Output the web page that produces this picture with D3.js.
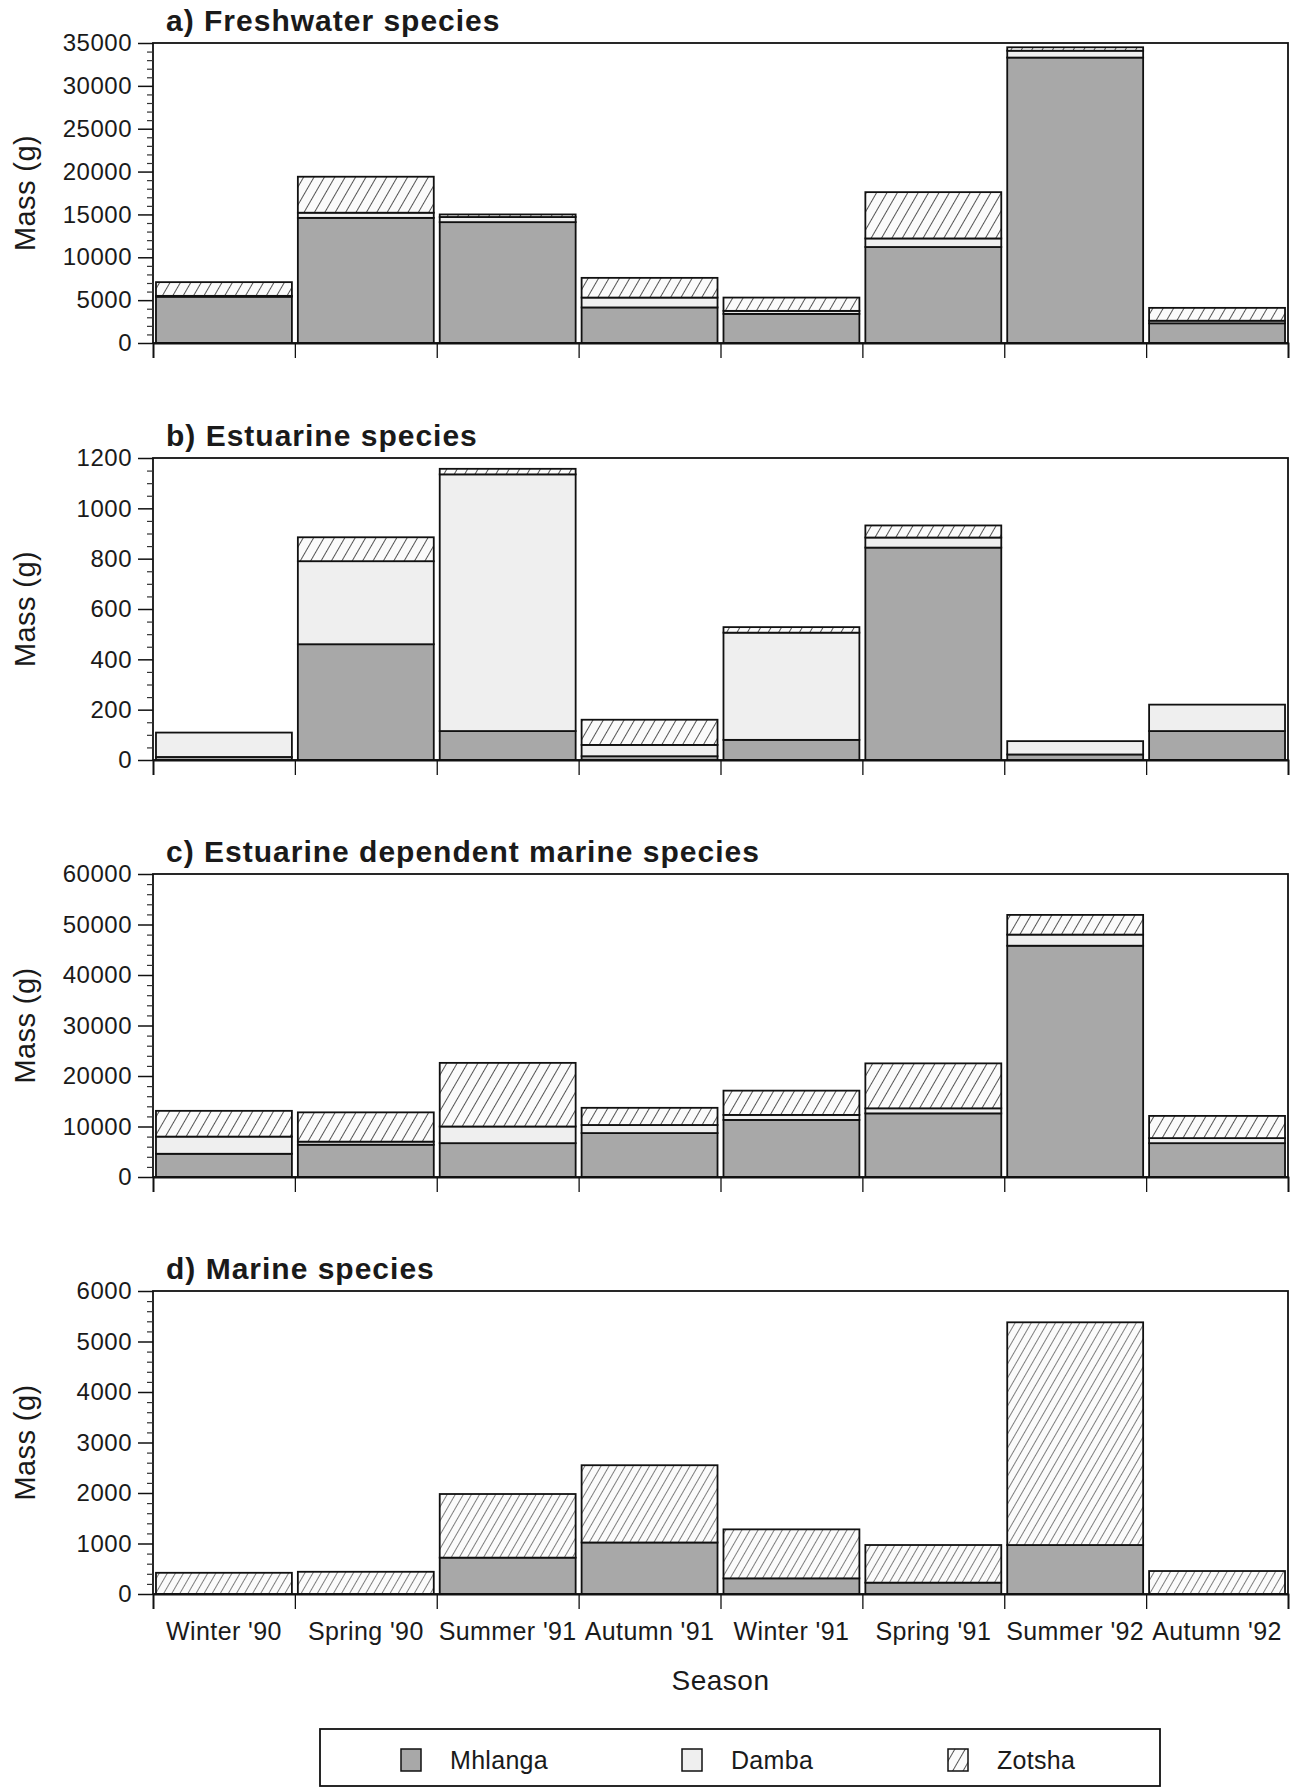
<!DOCTYPE html>
<html><head><meta charset="utf-8">
<script src="https://cdn.jsdelivr.net/npm/d3@7"></script>
<style>
html,body{margin:0;padding:0;background:#fff;}
svg text{font-family:"Liberation Sans",Arial,Helvetica,sans-serif;fill:#1a1a1a;}
</style></head>
<body>
<svg id="chart" width="1297" height="1788"></svg>
<script>
// ---------- DATA ----------
const seasons = ["Winter '90","Spring '90","Summer '91","Autumn '91","Winter '91","Spring '91","Summer '92","Autumn '92"];
const seriesNames = ["Mhlanga","Damba","Zotsha"];

// a) Freshwater species
const freshMhlanga = [5400, 14600, 14100, 4150, 3400, 11200, 33300, 2300];
const freshDamba   = [100,  600,   600,   1150, 350,  1000,  800,   300];
const freshZotsha  = [1600, 4200,  300,   2300, 1550, 5400,  400,   1500];
const freshTicks   = [0,5000,10000,15000,20000,25000,30000,35000];

// b) Estuarine species
const estMhlanga = [12, 460, 115, 15,  80,  844, 22, 115];
const estDamba   = [97, 330, 1020, 45, 426, 40,  53, 105];
const estZotsha  = [0,  95,  22,  100, 22,  48,  0,  0];
const estTicks   = [0,200,400,600,800,1000,1200];

// c) Estuarine dependent marine species
const edmMhlanga = [4600, 6400, 6700, 8700, 11300, 12600, 45800, 6700];
const edmDamba   = [3400, 600,  3300, 1600, 1000,  1000,  2200,  1000];
const edmZotsha  = [5100, 5800, 12600,3400, 4800,  8900,  3900,  4400];
const edmTicks   = [0,10000,20000,30000,40000,50000,60000];

// d) Marine species
const marMhlanga = [0,   0,   720,  1020, 310, 225, 970,  0];
const marDamba   = [0,   0,   0,    0,    0,   0,   0,    0];
const marZotsha  = [420, 440, 1260, 1530, 970, 745, 4410, 455];
const marTicks   = [0,1000,2000,3000,4000,5000,6000];

const panels = [
  {title:"a) Freshwater species", m:freshMhlanga, d:freshDamba, z:freshZotsha, ticks:freshTicks, minor:1000, top:43, bottom:343},
  {title:"b) Estuarine species", m:estMhlanga, d:estDamba, z:estZotsha, ticks:estTicks, minor:50, top:458, bottom:760},
  {title:"c) Estuarine dependent marine species", m:edmMhlanga, d:edmDamba, z:edmZotsha, ticks:edmTicks, minor:2000, top:874, bottom:1177},
  {title:"d) Marine species", m:marMhlanga, d:marDamba, z:marZotsha, ticks:marTicks, minor:200, top:1291, bottom:1594}
];

// ---------- DRAW ----------
const svg = d3.select("#chart");
const left = 153, right = 1288;
const fills = {Mhlanga:"#a8a8a8", Damba:"#efefef", Zotsha:"url(#hatch)"};

const defs = svg.append("defs");
const pat = defs.append("pattern").attr("id","hatch").attr("patternUnits","userSpaceOnUse")
  .attr("width",9).attr("height",9).attr("patternTransform","rotate(30)");
pat.append("rect").attr("width",9).attr("height",9).attr("fill","#fbfbfb");
pat.append("line").attr("x1",0).attr("y1",0).attr("x2",0).attr("y2",9).attr("stroke","#2a2a2a").attr("stroke-width",1.6);
const patL = defs.append("pattern").attr("id","hatchL").attr("patternUnits","userSpaceOnUse")
  .attr("width",7).attr("height",7).attr("patternTransform","rotate(30)");
patL.append("rect").attr("width",7).attr("height",7).attr("fill","#fbfbfb");
patL.append("line").attr("x1",0).attr("y1",0).attr("x2",0).attr("y2",7).attr("stroke","#2a2a2a").attr("stroke-width",1.2);

const x = d3.scaleBand().domain(seasons).range([left,right]).paddingInner(0.042).paddingOuter(0.021);
const xEdge = d3.scaleLinear().domain([0,seasons.length]).range([left,right]);

panels.forEach((p,pi)=>{
  const g = svg.append("g");
  const y = d3.scaleLinear().domain([p.ticks[0], p.ticks[p.ticks.length-1]]).range([p.bottom,p.top]);
  const rows = seasons.map((s,i)=>({season:s, Mhlanga:p.m[i], Damba:p.d[i], Zotsha:p.z[i]}));
  const stack = d3.stack().keys(seriesNames)(rows);

  stack.forEach(layer=>{
    g.append("g").selectAll("rect").data(layer).join("rect")
      .attr("x",d=>x(d.data.season))
      .attr("width",x.bandwidth())
      .attr("y",d=>y(d[1]))
      .attr("height",d=>Math.max(0,y(d[0])-y(d[1])))
      .attr("fill", layer.key==="Zotsha" ? (pi===3 ? "url(#hatchL)" : "url(#hatch)") : fills[layer.key])
      .attr("stroke","#111")
      .attr("stroke-width",d=> (d[1]-d[0])>0 ? 1.8 : 0);
  });

  // frame
  g.append("rect").attr("x",left).attr("y",p.top).attr("width",right-left).attr("height",p.bottom-p.top)
    .attr("fill","none").attr("stroke","#111").attr("stroke-width",1.8);

  // y axis major
  const yAxis = d3.axisLeft(y).tickValues(p.ticks).tickSize(15).tickPadding(6).tickFormat(d3.format("d"));
  const ya = g.append("g").attr("transform",`translate(${left},0)`).call(yAxis);
  ya.select(".domain").remove();
  ya.selectAll(".tick line").attr("stroke","#111").attr("stroke-width",1.5);
  ya.selectAll(".tick text").attr("font-size",24).attr("letter-spacing","0.5px").attr("fill","#1a1a1a");

  // y axis minor
  const minorVals = d3.range(p.ticks[0], p.ticks[p.ticks.length-1]+1e-9, p.minor).filter(v=>!p.ticks.includes(v));
  const ym = g.append("g").attr("transform",`translate(${left},0)`)
    .call(d3.axisLeft(y).tickValues(minorVals).tickSize(6).tickFormat(""));
  ym.select(".domain").remove();
  ym.selectAll(".tick line").attr("stroke","#333").attr("stroke-width",1.2);

  // x axis edge ticks
  const xa = g.append("g").attr("transform",`translate(0,${p.bottom})`)
    .call(d3.axisBottom(xEdge).tickValues(d3.range(seasons.length+1)).tickSize(15).tickFormat(""));
  xa.select(".domain").attr("stroke","#111").attr("stroke-width",1.8);
  xa.selectAll(".tick line").attr("stroke","#111").attr("stroke-width",1.3);

  // title
  g.append("text").attr("x",166).attr("y",p.top-12).attr("font-size",30).attr("font-weight","bold")
    .attr("letter-spacing","1px").text(p.title);

  // y label
  g.append("text").attr("transform",`translate(35,${(p.top+p.bottom)/2}) rotate(-90)`)
    .attr("text-anchor","middle").attr("font-size",29).attr("letter-spacing","0.4px").text("Mass (g)");

  // x labels (last panel)
  if(pi===panels.length-1){
    g.append("g").selectAll("text").data(seasons).join("text")
      .attr("x",d=>x(d)+x.bandwidth()/2).attr("y",1640)
      .attr("text-anchor","middle").attr("font-size",25).attr("letter-spacing","0.4px").text(d=>d);
    g.append("text").attr("x",(left+right)/2).attr("y",1690).attr("text-anchor","middle")
      .attr("font-size",28).attr("letter-spacing","0.5px").text("Season");
  }
});

// legend
const lg = svg.append("g");
lg.append("rect").attr("x",320).attr("y",1729).attr("width",840).attr("height",57)
  .attr("fill","none").attr("stroke","#111").attr("stroke-width",1.8);
const legX = [401, 682, 948];
seriesNames.forEach((s,i)=>{
  lg.append("rect").attr("x",legX[i]).attr("y",1749).attr("width",20).attr("height",22)
    .attr("fill",fills[s]).attr("stroke","#111").attr("stroke-width",1.5);
  lg.append("text").attr("x",legX[i]+49).attr("y",1769).attr("font-size",25).attr("letter-spacing","0.3px").text(s);
});
</script>
</body></html>
